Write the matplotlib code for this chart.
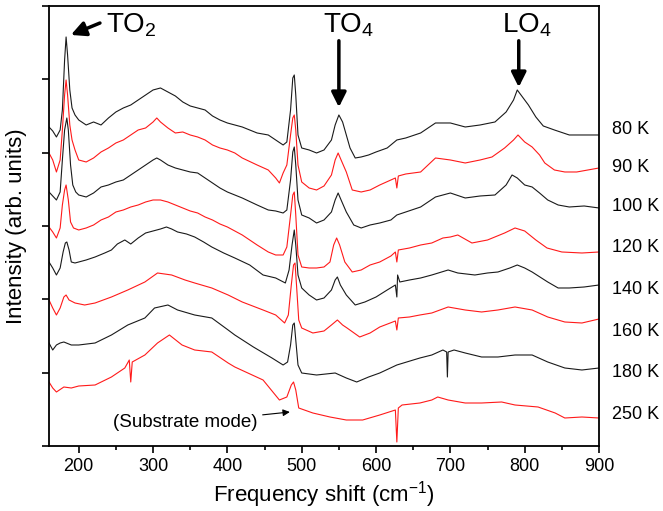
import numpy as np
import matplotlib
matplotlib.use("Agg")
import matplotlib.pyplot as plt

plt.rcParams['font.family'] = ['Liberation Sans', 'DejaVu Sans']
plt.rcParams['mathtext.fontset'] = 'custom'
plt.rcParams['mathtext.rm'] = 'Liberation Sans'
plt.rcParams['mathtext.it'] = 'Liberation Sans:italic'

# Raman spectra, stacked (arb. units)
x_80 = [160, 165, 170, 175, 178, 181, 183, 185, 188, 191, 195, 200, 210, 220, 230, 240, 250, 260, 270, 280,
        290, 300, 310, 320, 330, 340, 350, 360, 370, 380, 390, 400, 420, 440, 455, 465, 475, 480, 485, 488,
        490, 492, 495, 500, 510, 520, 530, 540, 545, 550, 555, 560, 565, 572, 580, 590, 600, 615, 628, 640,
        660, 680, 700, 720, 740, 760, 775, 785, 790, 795, 805, 815, 825, 840, 860, 880, 900]
i_80 = [319, 315, 309, 316, 336, 386, 409, 391, 356, 338, 331, 326, 321, 324, 321, 328, 334, 338, 341, 346,
        351, 356, 358, 354, 350, 344, 340, 338, 336, 330, 326, 323, 319, 313, 311, 306, 301, 304, 336, 368,
        371, 351, 311, 298, 296, 293, 296, 306, 321, 331, 324, 311, 298, 288, 289, 291, 294, 298, 306, 308,
        313, 323, 323, 319, 321, 324, 334, 346, 356, 351, 341, 329, 320, 316, 311, 311, 311]

x_90 = [160, 165, 170, 175, 178, 181, 183, 185, 188, 191, 195, 200, 210, 220, 230, 240, 250, 260, 270, 280,
        290, 300, 305, 310, 320, 330, 340, 350, 360, 370, 380, 390, 400, 410, 420, 440, 455, 465, 470, 475,
        480, 485, 488, 490, 492, 495, 500, 510, 520, 530, 540, 545, 549, 553, 560, 568, 580, 592, 605, 620,
        626, 628, 630, 640, 660, 680, 700, 720, 740, 756, 773, 785, 791, 800, 810, 820, 827, 840, 854, 870,
        885, 900]
i_90 = [293, 286, 274, 286, 316, 351, 366, 351, 321, 306, 296, 286, 284, 288, 294, 298, 303, 306, 311, 316,
        318, 324, 328, 324, 318, 313, 314, 311, 309, 306, 301, 298, 296, 293, 288, 281, 276, 268, 263, 273,
        281, 311, 328, 331, 316, 281, 264, 258, 256, 260, 271, 286, 293, 286, 274, 256, 254, 256, 261, 266,
        268, 258, 270, 272, 274, 288, 286, 283, 286, 289, 298, 306, 311, 304, 299, 291, 283, 276, 274, 274,
        276, 278]

x_100 = [160, 165, 170, 175, 178, 181, 184, 186, 189, 192, 196, 200, 210, 220, 230, 240, 250, 260, 270, 280,
         290, 300, 305, 310, 320, 330, 340, 350, 360, 370, 380, 390, 400, 410, 420, 440, 455, 465, 475, 480,
         485, 488, 490, 492, 495, 500, 510, 520, 530, 540, 545, 549, 553, 560, 570, 580, 592, 605, 620, 628,
         640, 660, 680, 700, 720, 740, 760, 775, 783, 790, 800, 810, 820, 831, 845, 860, 880, 900]
i_100 = [254, 250, 246, 254, 286, 316, 328, 316, 281, 261, 254, 251, 249, 253, 259, 261, 264, 266, 271, 276,
         281, 286, 288, 286, 281, 278, 276, 274, 273, 268, 263, 258, 254, 251, 248, 241, 236, 235, 233, 236,
         266, 294, 299, 281, 246, 231, 228, 223, 226, 234, 246, 253, 246, 234, 221, 218, 221, 223, 226, 231,
         234, 239, 249, 253, 248, 250, 251, 261, 271, 268, 261, 259, 253, 246, 241, 239, 240, 238]

x_120 = [160, 165, 170, 175, 178, 181, 183, 186, 189, 193, 200, 210, 220, 230, 240, 250, 260, 270, 280, 290,
         300, 310, 320, 330, 340, 350, 360, 370, 380, 390, 400, 420, 440, 455, 465, 475, 480, 485, 488, 490,
         492, 495, 500, 510, 520, 530, 538, 543, 547, 551, 558, 568, 580, 592, 605, 620, 626, 628, 630, 645,
         660, 675, 690, 700, 710, 729, 750, 773, 787, 800, 815, 830, 850, 877, 900]
i_120 = [219, 214, 208, 218, 241, 256, 261, 246, 224, 218, 216, 218, 221, 226, 229, 234, 236, 239, 241, 244,
         246, 246, 244, 241, 238, 235, 233, 229, 226, 222, 219, 211, 201, 194, 191, 191, 199, 231, 251, 254,
         231, 191, 179, 178, 178, 179, 184, 201, 208, 201, 184, 174, 176, 181, 184, 190, 194, 184, 196, 198,
         201, 203, 208, 209, 211, 203, 206, 213, 218, 215, 206, 198, 194, 193, 194]

x_140 = [160, 165, 170, 175, 179, 182, 184, 187, 190, 195, 200, 210, 222, 235, 244, 252, 262, 270, 280, 290,
         300, 310, 318, 325, 333, 345, 356, 368, 379, 395, 410, 430, 448, 465, 478, 483, 487, 490, 492, 495,
         500, 510, 520, 530, 540, 545, 548, 552, 560, 572, 585, 600, 615, 626, 628, 629, 632, 645, 660, 675,
         697, 710, 733, 750, 764, 780, 790, 800, 810, 831, 845, 860, 880, 900]
i_140 = [184, 178, 171, 178, 194, 203, 204, 196, 184, 183, 184, 186, 189, 193, 196, 202, 206, 202, 208, 213,
         215, 217, 219, 217, 214, 212, 209, 204, 199, 193, 188, 181, 171, 168, 163, 176, 201, 216, 201, 171,
         158, 151, 146, 148, 156, 166, 169, 161, 151, 141, 144, 149, 156, 161, 149, 171, 164, 166, 168, 171,
         176, 173, 171, 173, 174, 178, 181, 178, 174, 164, 158, 158, 159, 161]

x_160 = [160, 165, 170, 175, 180, 183, 187, 195, 208, 222, 244, 266, 289, 306, 325, 343, 356, 379, 401, 420,
         448, 465, 477, 482, 486, 489, 491, 493, 496, 500, 515, 530, 540, 548, 555, 561, 578, 592, 605, 626,
         628, 630, 645, 659, 675, 697, 720, 742, 764, 787, 810, 831, 854, 877, 900]
i_160 = [146, 138, 131, 138, 149, 151, 146, 143, 141, 143, 149, 156, 164, 173, 171, 166, 163, 158, 151, 144,
         136, 131, 123, 131, 161, 181, 183, 161, 126, 118, 113, 115, 121, 126, 121, 118, 109, 113, 119, 125,
         116, 128, 129, 131, 133, 139, 136, 134, 136, 139, 136, 129, 124, 123, 127]

x_180 = [160, 165, 170, 175, 180, 190, 200, 222, 244, 266, 289, 302, 320, 333, 356, 379, 401, 410, 435, 460,
         475, 481, 485, 488, 490, 492, 495, 500, 520, 545, 560, 574, 590, 605, 628, 659, 675, 690, 695, 696,
         697, 705, 720, 742, 764, 787, 810, 831, 854, 877, 900]
i_180 = [103, 96, 101, 103, 104, 101, 101, 103, 111, 121, 128, 138, 141, 136, 131, 128, 116, 111, 99, 88,
         81, 84, 101, 121, 123, 106, 81, 73, 71, 73, 68, 64, 69, 73, 81, 88, 91, 96, 94, 69,
         94, 96, 93, 89, 89, 91, 91, 84, 78, 76, 78]

x_250 = [160, 165, 170, 180, 190, 200, 222, 244, 262, 268, 270, 272, 289, 306, 322, 339, 356, 379, 401, 410,
         448, 470, 480, 486, 489, 492, 496, 515, 538, 560, 582, 605, 626, 628, 630, 635, 659, 675, 683, 697,
         720, 742, 769, 787, 818, 841, 854, 877, 900]
i_250 = [64, 58, 54, 59, 58, 60, 61, 69, 78, 86, 64, 84, 91, 103, 111, 101, 96, 94, 83, 79,
         66, 46, 49, 61, 64, 56, 38, 33, 29, 26, 26, 31, 36, 4, 38, 41, 43, 46, 49, 46,
         43, 43, 44, 41, 39, 33, 28, 29, 28]

spectra = [(x_80, i_80), (x_90, i_90), (x_100, i_100), (x_120, i_120),
           (x_140, i_140), (x_160, i_160), (x_180, i_180), (x_250, i_250)]
temps = ['80 K', '90 K', '100 K', '120 K', '140 K', '160 K', '180 K', '250 K']
label_y = [316, 278, 239, 198, 156, 114, 73, 31]
colors = ['#1a1a1a', '#ff1a1a'] * 4

fig = plt.figure(figsize=(6.63, 5.11), dpi=100)
ax = fig.add_axes([0.0739, 0.1272, 0.8296, 0.8611])

for (xs, ys), c in zip(spectra, colors):
    ax.plot(xs, ys, color=c, lw=0.8)

for t, yl in zip(temps, label_y):
    ax.text(917, yl, t, fontsize=13, va='center', ha='left')

ax.set_xlim(160, 900)
ax.set_ylim(0, 440)
ax.set_xticks(np.arange(200, 901, 100))
ax.set_xticks(np.arange(250, 900, 100), minor=True)
ax.set_yticks(np.linspace(0, 440, 7))
ax.set_yticklabels([])
ax.tick_params(which='major', direction='out', length=5, width=1.2, labelsize=13)
ax.tick_params(which='minor', direction='out', length=3, width=1.2)
for s in ax.spines.values():
    s.set_linewidth(1.3)

ax.set_xlabel('Frequency shift (cm$^{-1}$)', fontsize=16, labelpad=3)
ax.set_ylabel('Intensity (arb. units)', fontsize=16, labelpad=7)

# peak labels
ax.annotate('', xy=(186, 410), xytext=(232, 424),
            arrowprops=dict(arrowstyle='-|>', lw=2.5, color='k', mutation_scale=22))
ax.text(237, 413, 'TO$_2$', fontsize=20, ha='left', va='baseline')

ax.annotate('', xy=(550, 336), xytext=(550, 408),
            arrowprops=dict(arrowstyle='-|>', lw=2.5, color='k', mutation_scale=22))
ax.text(528, 413, 'TO$_4$', fontsize=20, ha='left', va='baseline')

ax.annotate('', xy=(792, 356), xytext=(792, 408),
            arrowprops=dict(arrowstyle='-|>', lw=2.5, color='k', mutation_scale=22))
ax.text(770, 413, 'LO$_4$', fontsize=20, ha='left', va='baseline')

ax.annotate('(Substrate mode)', xy=(484, 34), xytext=(440, 23),
            fontsize=13.5, ha='right', va='center',
            arrowprops=dict(arrowstyle='-|>', lw=0.8, color='k', mutation_scale=10,
                            shrinkA=2, shrinkB=0))

fig.savefig('out.png', dpi=100)
